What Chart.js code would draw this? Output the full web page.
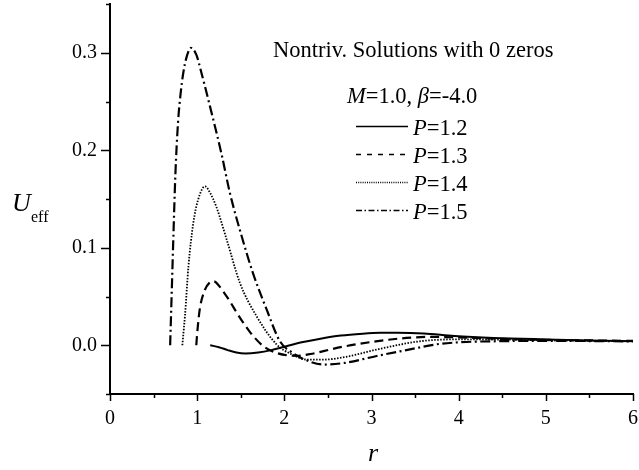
<!DOCTYPE html>
<html>
<head>
<meta charset="utf-8">
<script src="https://cdn.jsdelivr.net/npm/chart.js@4.4.1/dist/chart.umd.min.js"></script>
<style>
  html, body { margin: 0; padding: 0; background: #fff; }
  #wrap { width: 639px; height: 470px; }
</style>
</head>
<body>
<div id="wrap"><canvas id="ueff" width="639" height="470"></canvas></div>
<script>
// effective potential U_eff(r), M=1.0, beta=-4.0
const r12 = [1.15, 1.25, 1.35, 1.45, 1.55, 1.7, 1.85, 2.0, 2.2, 2.4, 2.65, 2.9, 3.1, 3.3, 3.6, 3.95, 4.4, 5.0, 5.5, 6.0];
const u12 = [0.0, -0.002, -0.005, -0.0075, -0.0085, -0.0075, -0.005, -0.0015, 0.003, 0.0065, 0.0099, 0.0118, 0.0127, 0.0128, 0.012, 0.0095, 0.0075, 0.006, 0.005, 0.0042];

const r13 = [0.99, 1.0, 1.03, 1.09, 1.14, 1.19, 1.25, 1.3, 1.376, 1.45, 1.53, 1.61, 1.76, 1.9, 2.05, 2.15, 2.3, 2.45, 2.7, 3.05, 3.4, 3.7, 4.0, 4.5, 5.0, 6.0];
const u13 = [0.0, 0.012, 0.037, 0.057, 0.064, 0.0656, 0.061, 0.055, 0.045, 0.034, 0.023, 0.013, -0.001, -0.0075, -0.0105, -0.0108, -0.009, -0.006, -0.001, 0.004, 0.0075, 0.0086, 0.008, 0.0065, 0.0055, 0.0045];

const r14 = [0.83, 0.845, 0.86, 0.9, 0.955, 1.01, 1.09, 1.15, 1.22, 1.34, 1.49, 1.68, 1.91, 2.1, 2.26, 2.45, 2.7, 3.06, 3.55, 3.94, 4.5, 5.0, 6.0];
const u14 = [0.0, 0.015, 0.03, 0.081, 0.125, 0.149, 0.163, 0.156, 0.142, 0.108, 0.064, 0.030, 0.001, -0.01, -0.0147, -0.0147, -0.012, -0.0044, 0.004, 0.006, 0.0058, 0.005, 0.0042];

const r15 = [0.69, 0.70, 0.715, 0.73, 0.75, 0.78, 0.81, 0.84, 0.88, 0.93, 0.99, 1.05, 1.147, 1.28, 1.376, 1.51, 1.64, 1.8, 1.95, 2.1, 2.3, 2.45, 2.7, 3.06, 3.4, 3.75, 4.0, 4.5, 5.0, 6.0];
const u15 = [0.0, 0.03, 0.075, 0.12, 0.175, 0.228, 0.258, 0.279, 0.296, 0.305, 0.298, 0.279, 0.245, 0.196, 0.156, 0.112, 0.074, 0.036, 0.004, -0.008, -0.017, -0.0198, -0.018, -0.011, -0.005, 0.001, 0.003, 0.0042, 0.0045, 0.004];

const pLabels = ['1.2', '1.3', '1.4', '1.5'];
const xTicks = [0, 1, 2, 3, 4, 5, 6];
const yTicks = [0.0, 0.1, 0.2, 0.3];

const serif = '"Liberation Serif", "Times New Roman", serif';

// line styles: solid, dash, dot, dash-dot
const dashes = [[], [9, 5], [1.5, 1.5], [10, 3.5, 2, 3.5]];
const widths = [2, 2.2, 1.8, 2.2];
const legendDashes = [[], [5, 6], [1, 1.2], [6, 2.5, 1.5, 2.5]];

const toPts = (xs, ys) => xs.map((x, i) => ({x: x, y: ys[i]}));
const series = [toPts(r12, u12), toPts(r13, u13), toPts(r14, u14), toPts(r15, u15)];

const datasets = series.map((pts, i) => ({
  label: 'P=' + pLabels[i],
  data: pts,
  borderColor: '#000',
  borderWidth: widths[i],
  borderDash: dashes[i],
  pointRadius: 0,
  fill: false,
  cubicInterpolationMode: 'monotone'
}));

// axis ticks (major + minor), titles, annotation and legend
const decor = {
  id: 'decor',
  afterDraw(chart) {
    const ctx = chart.ctx;
    const xs = chart.scales.x, ys = chart.scales.y;
    const area = chart.chartArea;
    ctx.save();
    ctx.strokeStyle = '#000';
    ctx.lineWidth = 1.5;
    ctx.setLineDash([]);
    for (let v = 0; v <= 12; v++) {
      const px = Math.round(xs.getPixelForValue(v / 2)) + 0.5;
      const len = v % 2 === 0 ? 7 : 4;
      ctx.beginPath();
      ctx.moveTo(px, area.bottom);
      ctx.lineTo(px, area.bottom + len);
      ctx.stroke();
    }
    for (let v = -1; v <= 7; v++) {
      const py = Math.round(ys.getPixelForValue(v * 0.05)) + 0.5;
      const len = v % 2 === 0 ? 9 : 4;
      ctx.beginPath();
      ctx.moveTo(area.left, py);
      ctx.lineTo(area.left - len, py);
      ctx.stroke();
    }

    ctx.fillStyle = '#000';
    ctx.textBaseline = 'middle';
    ctx.textAlign = 'left';

    // axis titles
    ctx.font = 'italic 26px ' + serif;
    ctx.fillText('U', 12, 204);
    ctx.font = '16px ' + serif;
    ctx.fillText('eff', 31, 218);
    ctx.font = 'italic 26px ' + serif;
    ctx.textAlign = 'center';
    ctx.fillText('r', 373, 454);
    ctx.textAlign = 'left';

    // annotation
    ctx.font = '22.5px ' + serif;
    ctx.fillText('Nontriv. Solutions with 0 zeros', 273, 51);

    // parameters line, with italic symbols
    let x = 347;
    const y0 = 97;
    const parts = [['M', true], ['=1.0, ', false], ['\u03B2', true], ['=-4.0', false]];
    parts.forEach(([t, it]) => {
      ctx.font = (it ? 'italic ' : '') + '22.5px ' + serif;
      ctx.fillText(t, x, y0);
      x += ctx.measureText(t).width;
    });

    // legend entries
    const rows = [129, 157, 185, 213];
    rows.forEach((ry, i) => {
      ctx.save();
      ctx.lineWidth = 1.3;
      ctx.setLineDash(legendDashes[i]);
      ctx.beginPath();
      ctx.moveTo(356, ry - 2.5);
      ctx.lineTo(408, ry - 2.5);
      ctx.stroke();
      ctx.restore();
      let lx = 413;
      ctx.font = 'italic 22.5px ' + serif;
      ctx.fillText('P', lx, ry);
      lx += ctx.measureText('P').width;
      ctx.font = '22.5px ' + serif;
      ctx.fillText('=' + pLabels[i], lx, ry);
    });
    ctx.restore();
  }
};

const config = {
  type: 'line',
  data: { datasets: datasets },
  options: {
    responsive: false,
    animation: false,
    layout: { padding: { top: 4, right: 6, left: 0, bottom: 0 } },
    plugins: {
      legend: { display: false },
      tooltip: { enabled: false }
    },
    scales: {
      x: {
        type: 'linear',
        min: 0,
        max: 6,
        afterBuildTicks: (s) => { s.ticks = xTicks.map(v => ({value: v})); },
        afterFit: (s) => {
          s.height = 76;
          s.paddingLeft = 0;
          s.paddingRight = 0;
        },
        grid: { display: false, drawTicks: false },
        border: { display: true, color: '#000', width: 2 },
        ticks: {
          color: '#000',
          padding: 13,
          maxRotation: 0,
          font: { family: serif, size: 20 },
          callback: (v) => String(v)
        }
      },
      y: {
        type: 'linear',
        min: -0.05,
        max: 0.35,
        afterBuildTicks: (s) => { s.ticks = yTicks.map(v => ({value: v})); },
        afterFit: (s) => {
          s.width = 110;
          s.paddingTop = 0;
          s.paddingBottom = 0;
        },
        grid: { display: false, drawTicks: false },
        border: { display: true, color: '#000', width: 2 },
        ticks: {
          color: '#000',
          padding: 13,
          font: { family: serif, size: 20 },
          callback: (v) => v.toFixed(1)
        }
      }
    }
  },
  plugins: [decor]
};

const ueffChart = new Chart(document.getElementById('ueff'), config);
</script>
</body>
</html>
